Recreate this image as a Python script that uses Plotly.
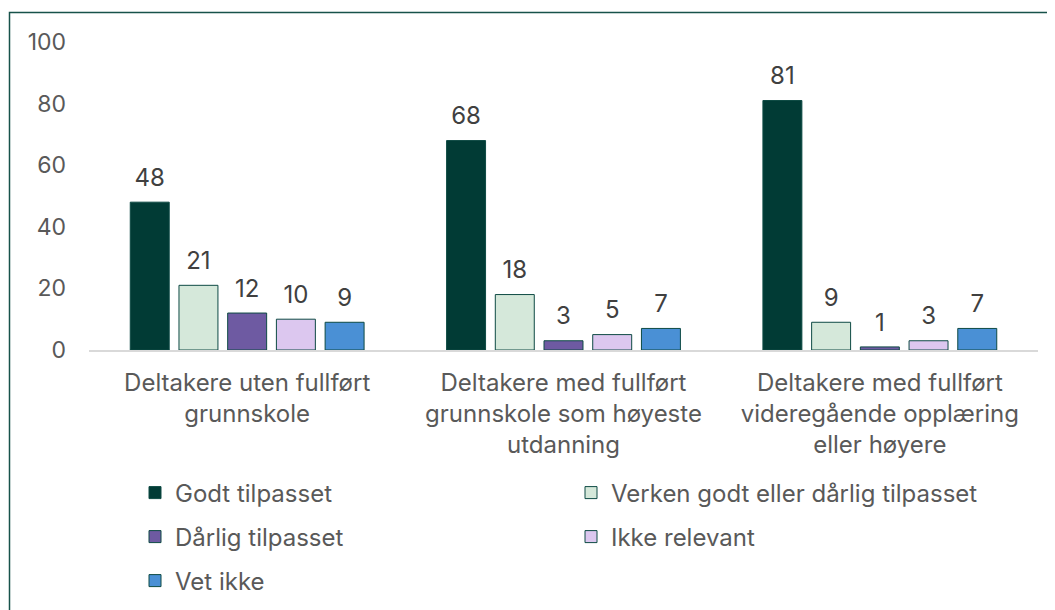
import plotly.graph_objects as go

categories = [
    "Deltakere uten fullført<br>grunnskole",
    "Deltakere med fullført<br>grunnskole som høyeste<br>utdanning",
    "Deltakere med fullført<br>videregående opplæring<br>eller høyere",
]
series_names = [
    "Godt tilpasset",
    "Verken godt eller dårlig tilpasset",
    "Dårlig tilpasset",
    "Ikke relevant",
    "Vet ikke",
]
godt = [48, 68, 81]
verken = [21, 18, 9]
darlig = [12, 3, 1]
ikke_relevant = [10, 5, 3]
vet_ikke = [9, 7, 7]
series_values = [godt, verken, darlig, ikke_relevant, vet_ikke]
colors = ["#013B35", "#D5E8DA", "#6E5AA2", "#DCC7EF", "#4A90D5"]
legend_ids = ["legend", "legend", "legend2", "legend2", "legend3"]
y_ticks = [0, 20, 40, 60, 80, 100]

FONT = "Inter, Roboto, sans-serif"
TXT = "#595959"
FS = 24

fig = go.Figure()
for name, vals, col, lg in zip(series_names, series_values, colors, legend_ids):
    fig.add_trace(go.Bar(
        x=categories, y=vals, name=name,
        marker=dict(color=col, line=dict(color="#0E4A44", width=1)),
        cliponaxis=False, legend=lg, hoverinfo="y+name",
    ))
# value labels, grouped like the bars
for name, vals in zip(series_names, series_values):
    fig.add_trace(go.Scatter(
        x=categories, y=vals, mode="markers+text", showlegend=False,
        marker=dict(size=15, opacity=0), text=[str(v) for v in vals],
        textposition="top center", hoverinfo="skip",
        textfont=dict(family=FONT, size=FS, color="#404040"), cliponaxis=False,
    ))

OFF = 8  # page body margin
W, H = 1047, 602
L, T = 89 - OFF, 42 - OFF
R = W - (1038 - OFF)
B = H - (350 - OFF)
pw, ph = W - L - R, H - T - B

def px(x):
    return (x - OFF - L) / pw

def py(y):
    return (H - B - (y - OFF)) / ph

def cy(y):
    return 1 - (y - OFF) / H

leg_common = dict(orientation="h", entrywidth=391, entrywidthmode="pixels",
                  font=dict(family=FONT, size=FS, color=TXT), itemwidth=30,
                  xanchor="left", yanchor="middle", bgcolor="rgba(0,0,0,0)",
                  traceorder="normal", yref="container")

fig.update_layout(
    width=W, height=H,
    margin=dict(l=L, r=R, t=T, b=B, autoexpand=False),
    paper_bgcolor="white", plot_bgcolor="white",
    barmode="group", bargap=0.23, bargroupgap=0.2,
    scattermode="group", scattergap=0.23,
    font=dict(family=FONT, size=FS, color=TXT),
    legend=dict(x=px(135), y=cy(493), **leg_common),
    legend2=dict(x=px(135), y=cy(537), **leg_common),
    legend3=dict(x=px(135), y=cy(581), **leg_common),
    xaxis=dict(showgrid=False, showline=True, linecolor="#D9D9D9", linewidth=1.5,
               tickfont=dict(family=FONT, size=FS, color=TXT), ticklabelstandoff=10),
    yaxis=dict(range=[0, 100], tickvals=y_ticks, showgrid=False, zeroline=False,
               showline=False, tickfont=dict(family=FONT, size=23, color=TXT),
               ticklabelstandoff=22),
    shapes=[dict(type="rect", xref="paper", yref="paper",
                 x0=px(9.5), x1=px(1070), y0=py(640), y1=py(12.5),
                 line=dict(color="#17524A", width=1.5), fillcolor="rgba(0,0,0,0)",
                 layer="above")],
)

fig.write_html("out.html")
